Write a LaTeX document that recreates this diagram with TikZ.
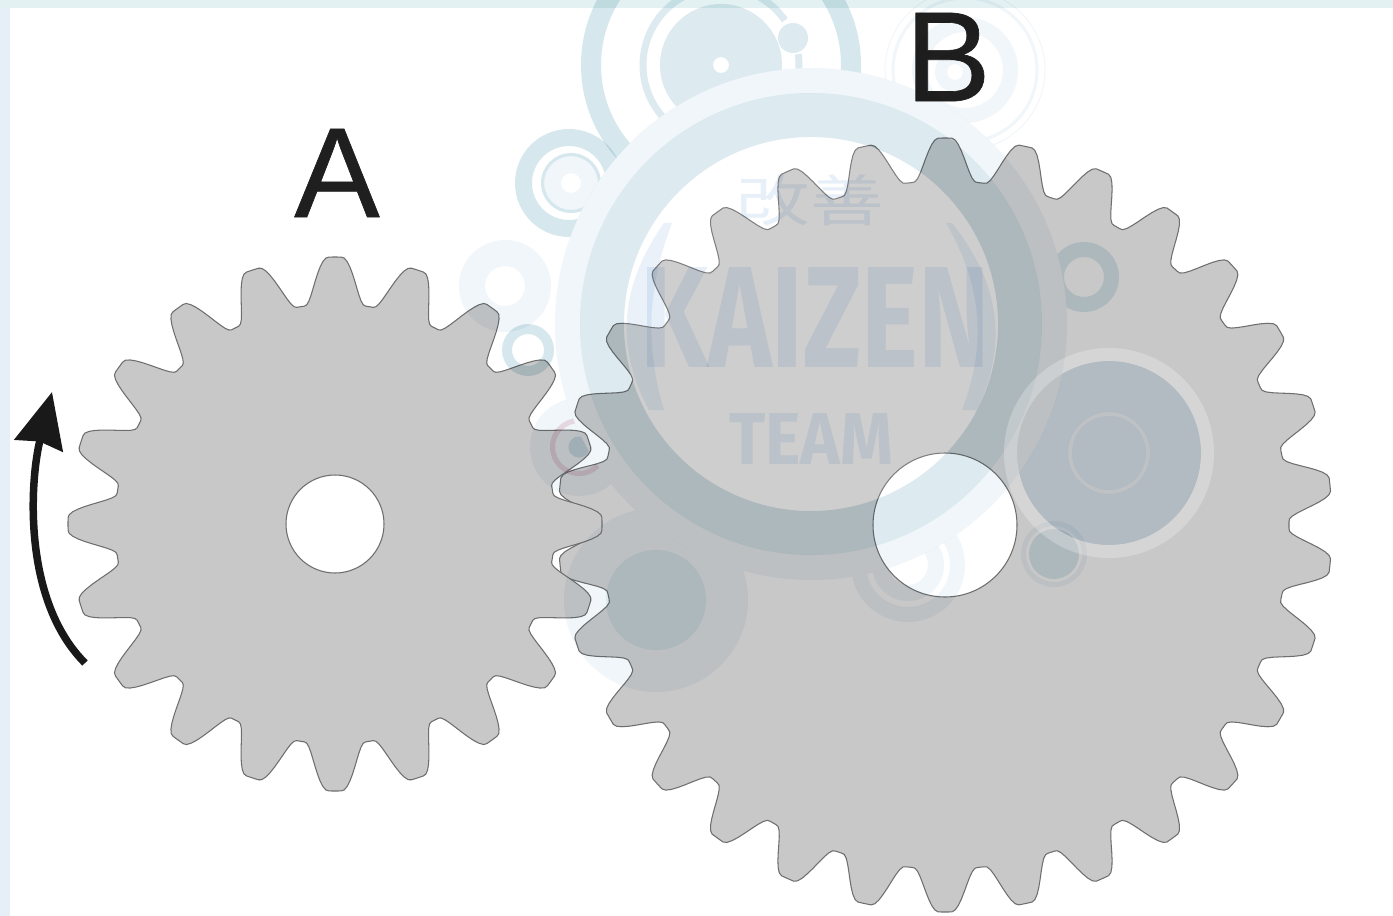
\documentclass[tikz,border=0pt]{standalone}
\usepackage{fontspec}
\usepackage{xcolor}
\usepackage{tikz}
\usetikzlibrary{arrows.meta,calc,positioning}
\setmainfont{Liberation Sans}
\newfontfamily\labelfont[FakeBold=0.5]{Liberation Sans}
\newfontfamily\wmfont{Fira Sans}
\newfontfamily\cjkfont{Noto Sans CJK JP}
\definecolor{gearfill}{HTML}{C8C8C8}
\definecolor{gearedge}{HTML}{6E6E6E}
\definecolor{frameleft}{HTML}{E6EFF8}
\definecolor{frametop}{HTML}{E4F1F2}
\definecolor{wmband}{HTML}{DDEBF0}
\definecolor{wmpale}{HTML}{F0F6F9}
\definecolor{wmteal}{HTML}{D6E8ED}
\definecolor{wmdot}{HTML}{CCE0E8}
\definecolor{wmslate}{HTML}{E4EEF8}
\definecolor{wmpink}{HTML}{E6D6E0}
\tikzset{
  every picture/.append style={line cap=round,line join=round},
  gear body/.style={fill=gearfill,draw=gearedge,line width=0.6pt,even odd rule},
  gear label/.style={text=black!88,font=\labelfont\fontsize{73}{73}\selectfont,inner sep=0pt},
  turn arrow/.style={line width=0.15cm,black!90,line cap=butt,-{Stealth[length=1.1cm,width=0.98cm,inset=0.08cm]}},
  wm text/.style={text=wmslate,inner sep=0pt,font=\wmfont\bfseries}
}
\newcommand{\wmring}[4]{\fill[#1,even odd rule] #2 circle[radius=#3] #2 circle[radius=#4];}
\begin{document}
\begin{tikzpicture}[x=0.02cm,y=-0.02cm,
  declare function={
    toothdist(\a,\p,\o)=min(mod(\a+\o,\p)/\p,1-mod(\a+\o,\p)/\p);
    toothramp(\d)=min(1,max(0,(0.44-\d)/0.36));
    gearrad(\a,\p,\o,\rr,\rt)=\rr+(\rt-\rr)*toothramp(toothdist(\a,\p,\o))^2*(3-2*toothramp(toothdist(\a,\p,\o)));
  }]
  \useasboundingbox (0,0) rectangle (1393,916);
  \fill[white] (0,0) rectangle (1393,916);
  % frame of the page
  \fill[frameleft] (0,0) rectangle (10,916);
  \fill[frametop] (0,0) rectangle (1393,8);

  % big gear
  \begin{scope}[shift={(945,525)}]
    \path[gear body] plot[domain=0:360,samples=721] (\x:{gearrad(\x,12,6,344,387)}) -- cycle
      (0,0) circle[radius=72];
  \end{scope}
  % small gear
  \begin{scope}[shift={(335,524)}]
    \path[gear body] plot[domain=0:360,samples=541] (\x:{gearrad(\x,18,0,220,267)}) -- cycle
      (0,0) circle[radius=49];
  \end{scope}

  \node[gear label] (labelA) at (337,173) {A};
  \node[gear label] (labelB) at (948,57) {B};

  \coordinate (turnstart) at (85,663);
  \coordinate (turnend) at (52,392);
  \draw[turn arrow] (turnstart) .. controls (22,600) and (30,480) .. (turnend);

  % watermark
  \begin{scope}[blend mode=multiply]
    \begin{scope}[even odd rule]
      \clip (0,0) rectangle (1393,916) (811,324) circle[radius=256];
      % top circle
      \wmring{wmteal}{(721,65)}{140}{120}
      \draw[wmband,line width=0.14cm,line cap=butt] (721,65) ++(-35:78) arc[start angle=-35,end angle=-270,radius=78];
      \draw[wmband,line width=0.14cm,line cap=butt] (721,65) ++(-8:78) arc[start angle=-8,end angle=60,radius=78];
      \wmring{wmband}{(721,65)}{61}{8}
      \wmring{wmband}{(793,38)}{15}{0}
      % circle behind B
      \draw[wmpale,line width=0.5pt] (965,70) circle[radius=80];
      \draw[wmpale,line width=0.06cm] (965,70) circle[radius=72];
      \wmring{wmpale}{(965,70)}{53}{38}
      \wmring{wmpale}{(955,72)}{20}{8}
      % left circles
      \wmring{wmteal}{(569,183)}{54}{37}
      \wmring{wmteal}{(571,183)}{30}{27}
      \wmring{wmpale}{(571,183)}{27}{10}
      \wmring{wmpale}{(505,286)}{46}{20}
      \wmring{wmteal}{(528,350)}{26}{16}
      % circle at the mesh
      \wmring{wmpale}{(579,447)}{49}{29}
      \wmring{wmpink}{(579,447)}{29}{24}
      \wmring{wmpale}{(579,447)}{24}{10.5}
      \wmring{wmdot}{(579,447)}{10.5}{0}
      % lower circles
      \wmring{wmpale}{(656,600)}{92}{50}
      \wmring{wmband}{(656,600)}{50}{0}
      \wmring{wmpale}{(908,565)}{57}{42}
      \wmring{wmpale}{(908,565)}{36}{20}
      % right circles
      \wmring{wmband}{(1084,277)}{35}{20}
      \wmring{wmslate}{(1109,453)}{92}{41}
      \wmring{wmslate!40}{(1109,453)}{41}{37}
      \wmring{wmslate}{(1109,453)}{37}{0}
      \wmring{wmpale}{(1054,554)}{33}{28}
      \wmring{wmband}{(1054,554)}{25}{0}
    \end{scope}
    % main ring
    \wmring{wmpale}{(811,324)}{256}{231}
    \wmring{wmband}{(811,324)}{231}{187}
    % lettering
    \fill[wmslate!85] (664,223) .. controls (617,290) and (617,350) .. (649,410)
      -- (664,410) .. controls (646,350) and (646,290) .. (672,223) -- cycle;
    \fill[wmslate!85] (952,223) .. controls (1005,290) and (1005,350) .. (977,410)
      -- (962,410) .. controls (985,350) and (985,290) .. (946,223) -- cycle;
    \node[wm text] (kaizen) at (815,318) {\resizebox{7cm}{2cm}{KAIZEN}};
    \node[wm text] (team) at (811,439) {\resizebox{3.28cm}{1.02cm}{TEAM}};
    \node[text=wmslate,inner sep=0pt] (kanji) at (810,200) {\resizebox{2.94cm}{0.94cm}{\cjkfont 改善}};
  \end{scope}
  % pale veils that lighten the gear
  \fill[white,opacity=0.12] (811,324) circle[radius=187];
  \draw[white,opacity=0.25,line width=0.26cm] (1109,453) circle[radius=98.5];
\end{tikzpicture}
\end{document}
